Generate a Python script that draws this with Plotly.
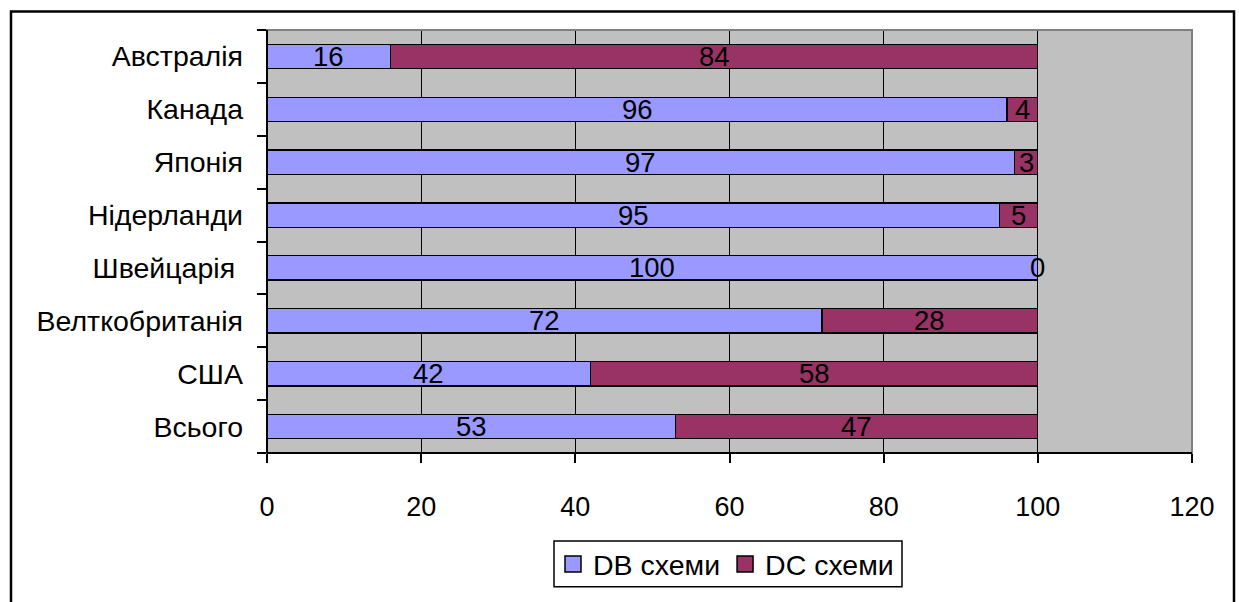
import plotly.graph_objects as go

categories = ["Всього", "США", "Велткобританія", "Швейцарія\u00a0", "Нідерланди", "Японія", "Канада", "Австралія"]
db_values = [53, 42, 72, 100, 95, 97, 96, 16]
dc_values = [47, 58, 28, 0, 5, 3, 4, 84]
x_ticks = [0, 20, 40, 60, 80, 100, 120]
series_names = ["DB схеми", "DC схеми"]
series_colors = ["#9999FF", "#993366"]

FONT = "Liberation Sans, Arial, sans-serif"
FS_NUM = 27.5
FS_TICK = 27
FS_TXT = 28.5

fig = go.Figure()
for name, vals, col in zip(series_names, [db_values, dc_values], series_colors):
    fig.add_trace(go.Bar(y=categories, x=vals, orientation="h", name=name,
                         marker=dict(color=col, line=dict(color="black", width=1.3)),
                         hoverinfo="skip", showlegend=False))
# legend entries with larger square symbols
for name, col in zip(series_names, series_colors):
    fig.add_trace(go.Scatter(x=[None], y=[None], mode="markers", name=name,
                             marker=dict(symbol="square", size=16, color=col,
                                         line=dict(color="black", width=1.5)),
                             hoverinfo="skip", showlegend=True))

annotations = []
for cat, a, b in zip(categories, db_values, dc_values):
    annotations.append(dict(x=a / 2, y=cat, text=str(a), showarrow=False,
                            xref="x", yref="y", font=dict(size=FS_NUM, color="black", family=FONT)))
    annotations.append(dict(x=a + b / 2, y=cat, text=str(b), showarrow=False,
                            xref="x", yref="y", font=dict(size=FS_NUM, color="black", family=FONT)))

W, H = 1239, 602
L, R, T, B = 267, 1192, 30, 463
pw, ph = R - L, B - T

def px(x):
    return (x - L) / pw

def py(y):
    return (B - y) / ph

shapes = [
    dict(type="rect", xref="paper", yref="paper", x0=0, x1=1, y0=0, y1=1,
         line=dict(color="#808080", width=2), layer="above"),
    dict(type="line", xref="paper", yref="paper", x0=0, x1=0, y0=0, y1=1,
         line=dict(color="black", width=2), layer="above"),
    dict(type="line", xref="paper", yref="paper", x0=0, x1=1, y0=0, y1=0,
         line=dict(color="black", width=2), layer="above"),
    dict(type="rect", xref="paper", yref="paper", x0=px(11), x1=px(1234), y0=py(11), y1=py(640),
         line=dict(color="black", width=2.5), layer="above"),
    # legend frame
    dict(type="rect", xref="paper", yref="paper", x0=px(554), x1=px(902), y0=py(553), y1=py(600),
         line=dict(color="black", width=1.5), layer="above"),
]

fig.update_layout(
    width=W, height=H,
    margin=dict(l=L, r=W - R, t=T, b=H - B),
    barmode="stack", bargap=0.54,
    plot_bgcolor="#C0C0C0", paper_bgcolor="white",
    font=dict(family=FONT, size=FS_TXT, color="black"),
    showlegend=True,
    legend=dict(orientation="h", x=px(726), xanchor="center", y=py(577), yanchor="middle",
                borderwidth=0, bgcolor="rgba(0,0,0,0)",
                font=dict(size=FS_TXT, family=FONT), itemsizing="trace", traceorder="normal"),
    annotations=annotations,
    shapes=shapes,
    xaxis=dict(range=[0, 120], tickvals=x_ticks, ticktext=[str(v) for v in x_ticks],
               showgrid=True, gridcolor="black", gridwidth=1.3,
               ticks="outside", ticklen=9, tickwidth=1.5, tickcolor="black",
               tickfont=dict(size=FS_TICK, family=FONT),
               showline=False, zeroline=False, ticklabelstandoff=21, fixedrange=True),
    yaxis=dict(categoryorder="array", categoryarray=categories,
               tickson="boundaries", ticks="outside", ticklen=9, tickwidth=1.5, tickcolor="black",
               tickfont=dict(size=FS_TXT, family=FONT),
               showgrid=False, showline=False, zeroline=False, ticklabelstandoff=23, fixedrange=True),
)

fig.write_html("out.html")
